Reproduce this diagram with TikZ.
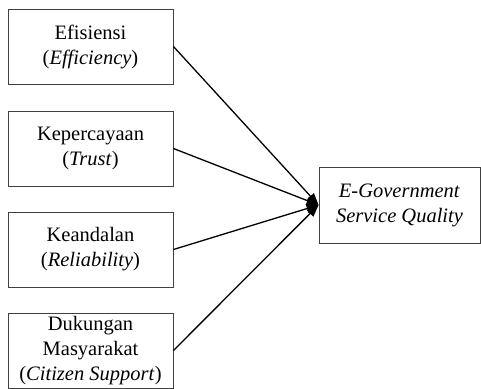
\documentclass[tikz,border=0pt]{standalone}
\usepackage{fontspec}
\setmainfont{Liberation Serif}
\usepackage{tikz}
\usetikzlibrary{arrows.meta}

\begin{document}
\begin{tikzpicture}[x=1pt,y=-1pt,
  every node/.style={font=\fontsize{20.5}{25}\selectfont,align=center},
  b/.style={rectangle,draw=black!75,line width=0.9pt,minimum width=165pt,minimum height=75pt,inner sep=0pt},
  t/.style={rectangle,draw=black!75,line width=0.9pt,minimum width=161pt,minimum height=76pt,inner sep=0pt},
  a/.style={-{Triangle[length=12pt,width=9pt]},line width=1.3pt}
]
  \useasboundingbox (0,0) rectangle (481,388);
  \node[b] (eff) at (90.5,46.5) {Efisiensi\\(\textit{Efficiency})};
  \node[b] (tru) at (90.5,148.5) {Kepercayaan\\(\textit{Trust})};
  \node[b] (rel) at (90.5,249.5) {Keandalan\\(\textit{Reliability})};
  \node[b] (cit) at (90.5,350.5) {Dukungan\\Masyarakat\\(\textit{Citizen Support})};
  \node[t] (egsq) at (399.5,205) {\textit{E-Government}\\\textit{Service Quality}};
  \draw[a] (eff.east) -- (egsq.west);
  \draw[a] (tru.east) -- (egsq.west);
  \draw[a] (rel.east) -- (egsq.west);
  \draw[a] (cit.east) -- (egsq.west);
\end{tikzpicture}
\end{document}
